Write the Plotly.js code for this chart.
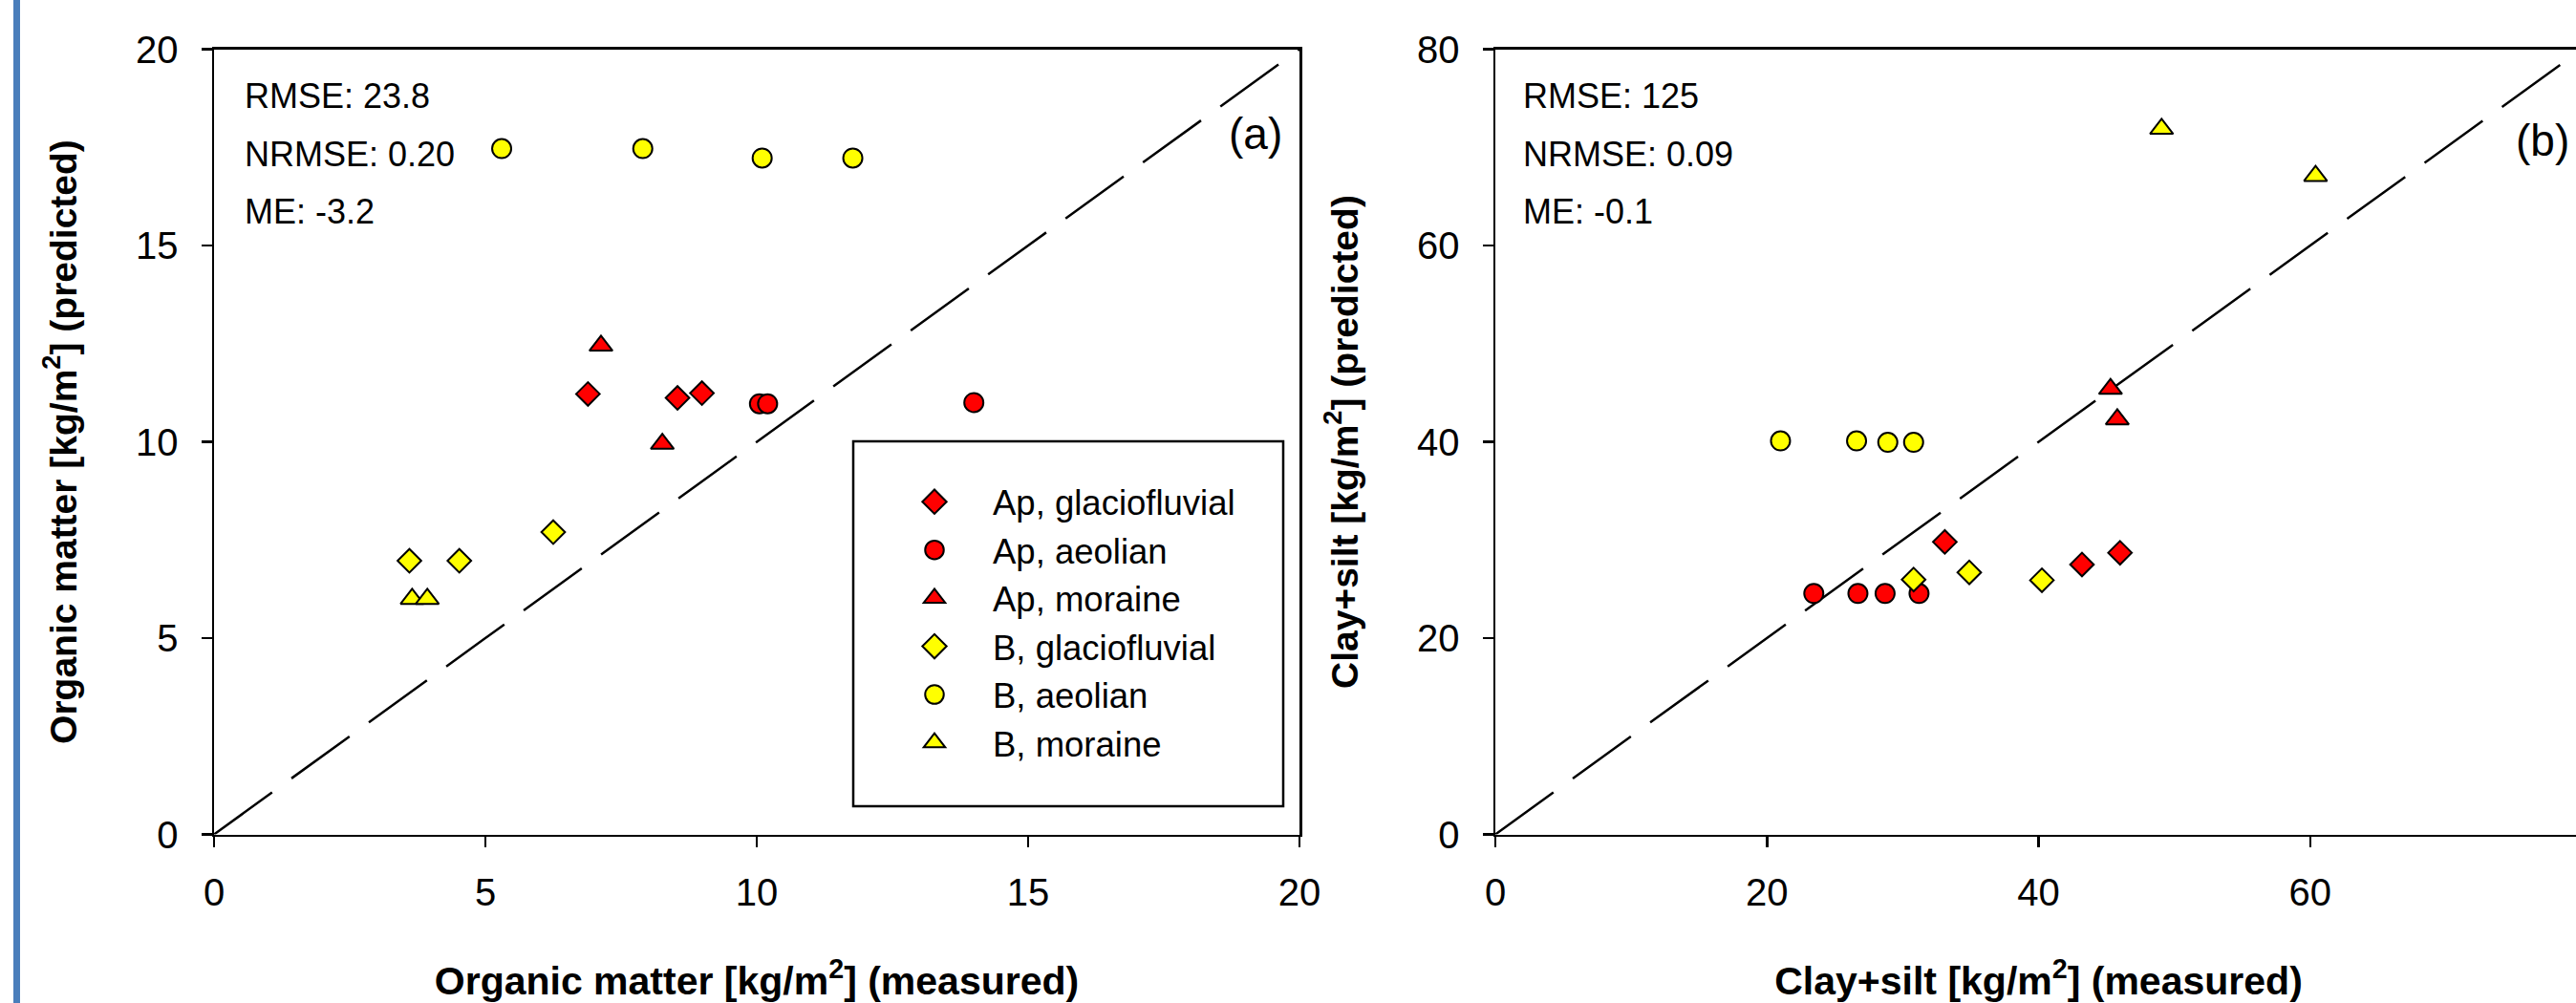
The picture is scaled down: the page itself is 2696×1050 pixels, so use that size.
<!DOCTYPE html>
<html>
<head>
<meta charset="utf-8">
<script src="https://cdn.plot.ly/plotly-3.0.1.min.js"></script>
<style>
  html, body { margin: 0; padding: 0; overflow: hidden; background: #ffffff; }
  #chart { width: 2720px; height: 1050px; }
</style>
</head>
<body>
<div id="chart"></div>
<script>
// ---------------- data ----------------
const seriesNames = ["Ap, glaciofluvial", "Ap, aeolian", "Ap, moraine",
                     "B, glaciofluvial", "B, aeolian", "B, moraine"];

// Panel (a): organic matter [kg/m2], measured (x) vs predicted (y)
const omApGlacioX = [6.89, 8.54, 8.99];
const omApGlacioY = [11.22, 11.12, 11.24];
const omApAeolX   = [10.05, 10.2, 14.0];
const omApAeolY   = [10.97, 10.97, 11.0];
const omApMorX    = [7.13, 8.26];
const omApMorY    = [12.45, 9.95];
const omBGlacioX  = [3.6, 4.52, 6.25];
const omBGlacioY  = [6.97, 6.97, 7.7];
const omBAeolX    = [5.3, 7.9, 10.1, 11.77];
const omBAeolY    = [17.47, 17.47, 17.23, 17.23];
const omBMorX     = [3.65, 3.93];
const omBMorY     = [6.0, 6.0];

// Panel (b): clay+silt [kg/m2], measured (x) vs predicted (y)
const csApGlacioX = [33.1, 43.2, 46.0];
const csApGlacioY = [29.8, 27.5, 28.7];
const csApAeolX   = [23.45, 26.7, 28.7, 31.2];
const csApAeolY   = [24.55, 24.55, 24.55, 24.55];
const csApMorX    = [45.3, 45.8];
const csApMorY    = [45.4, 42.3];
const csBGlacioX  = [30.8, 34.9, 40.25];
const csBGlacioY  = [25.97, 26.7, 25.9];
const csBAeolX    = [21.0, 26.6, 28.9, 30.8];
const csBAeolY    = [40.1, 40.1, 39.95, 39.95];
const csBMorX     = [49.06, 60.4];
const csBMorY     = [71.9, 67.1];

// 1:1 reference lines
const oneToOneA = [0, 20];
const oneToOneB = [0, 80];

// tick values
const ticksAX = [0, 5, 10, 15, 20];
const ticksAY = [0, 5, 10, 15, 20];
const ticksBX = [0, 20, 40, 60, 80];
const ticksBY = [0, 20, 40, 60, 80];

// statistics text
const statsA = ["RMSE: 23.8", "NRMSE: 0.20", "ME: -3.2"];
const statsB = ["RMSE: 125", "NRMSE: 0.09", "ME: -0.1"];
const panelLabels = ["(a)", "(b)"];

// ---------------- styles ----------------
const W = 2720, H = 1050;
const FONT = "'Liberation Sans', Arial, Helvetica, sans-serif";
const RED = "#ff0000", YELLOW = "#ffff00";
const symbols = ["diamond", "circle", "triangle-up", "diamond", "circle", "triangle-up"];
const colors = [RED, RED, RED, YELLOW, YELLOW, YELLOW];
const sizes = [19, 20, 21, 19, 20, 21];

const dataA = [[omApGlacioX, omApGlacioY], [omApAeolX, omApAeolY], [omApMorX, omApMorY],
               [omBGlacioX, omBGlacioY], [omBAeolX, omBAeolY], [omBMorX, omBMorY]];
const dataB = [[csApGlacioX, csApGlacioY], [csApAeolX, csApAeolY], [csApMorX, csApMorY],
               [csBGlacioX, csBGlacioY], [csBAeolX, csBAeolY], [csBMorX, csBMorY]];

const traces = [];
traces.push({x: oneToOneA, y: oneToOneA, xaxis: 'x', yaxis: 'y', mode: 'lines',
  line: {color: '#000', width: 2.5, dash: '75px,25px'}, showlegend: false, hoverinfo: 'skip'});
traces.push({x: oneToOneB, y: oneToOneB, xaxis: 'x2', yaxis: 'y2', mode: 'lines',
  line: {color: '#000', width: 2.5, dash: '75px,25px'}, showlegend: false, hoverinfo: 'skip'});

function mk(i) {
  return {symbol: symbols[i], size: sizes[i], color: colors[i], line: {color: '#000', width: 2}};
}
dataA.forEach(function (d, i) {
  traces.push({x: d[0], y: d[1], xaxis: 'x', yaxis: 'y', mode: 'markers', type: 'scatter',
    name: seriesNames[i], marker: mk(i), showlegend: true});
});
dataB.forEach(function (d, i) {
  traces.push({x: d[0], y: d[1], xaxis: 'x2', yaxis: 'y2', mode: 'markers', type: 'scatter',
    name: seriesNames[i], marker: mk(i), showlegend: false});
});

function axisCommon(range, tickvals) {
  return {
    range: range, tickvals: tickvals, ticks: 'outside', ticklen: 11, tickwidth: 2.5,
    tickcolor: '#000', showline: true, linewidth: 2.5, linecolor: '#000', mirror: true,
    showgrid: false, zeroline: false, automargin: false, fixedrange: true,
    tickfont: {family: FONT, size: 40, color: '#000'}
  };
}
const yDom = [1 - 873.5 / H, 1 - 51.6 / H];
const xTitleFont = {family: FONT, size: 41, color: '#000'};
const yTitleFont = {family: FONT, size: 39, color: '#000'};

const xaxis = Object.assign(axisCommon([0, 20], ticksAX), {
  domain: [224 / W, 1360 / W], anchor: 'y', ticklabelstandoff: 13,
  title: {text: '<b>Organic matter [kg/m<sup>2</sup>] (measured)</b>', font: xTitleFont, standoff: 69}
});
const yaxis = Object.assign(axisCommon([0, 20], ticksAY), {
  domain: yDom, anchor: 'x', ticklabelstandoff: 16,
  title: {text: '<b>Organic matter [kg/m<sup>2</sup>] (predicted)</b>', font: yTitleFont, standoff: 50}
});
const xaxis2 = Object.assign(axisCommon([0, 80], ticksBX), {
  domain: [1565 / W, 2702 / W], anchor: 'y2', ticklabelstandoff: 13,
  title: {text: '<b>Clay+silt [kg/m<sup>2</sup>] (measured)</b>', font: xTitleFont, standoff: 69}
});
const yaxis2 = Object.assign(axisCommon([0, 80], ticksBY), {
  domain: yDom, anchor: 'x2', ticklabelstandoff: 16,
  title: {text: '<b>Clay+silt [kg/m<sup>2</sup>] (predicted)</b>', font: yTitleFont, standoff: 50}
});

const annFont = {family: FONT, size: 36, color: '#000'};
const statY = [0.9402, 0.8660, 0.7927];
const annotations = [];
statsA.forEach(function (t, i) {
  annotations.push({xref: 'x domain', yref: 'y domain', x: 0.0264, y: statY[i], text: t,
    showarrow: false, xanchor: 'left', yanchor: 'middle', font: annFont});
});
statsB.forEach(function (t, i) {
  annotations.push({xref: 'x2 domain', yref: 'y2 domain', x: 0.0237, y: statY[i], text: t,
    showarrow: false, xanchor: 'left', yanchor: 'middle', font: annFont});
});
annotations.push({xref: 'x domain', yref: 'y domain', x: 0.9595, y: 0.893, text: panelLabels[0],
  showarrow: false, xanchor: 'center', yanchor: 'middle', font: {family: FONT, size: 46, color: '#000'}});
annotations.push({xref: 'x2 domain', yref: 'y2 domain', x: 0.964, y: 0.884, text: panelLabels[1],
  showarrow: false, xanchor: 'center', yanchor: 'middle', font: {family: FONT, size: 46, color: '#000'}});

const shapes = [
  // slide border bar on the left
  {type: 'rect', xref: 'paper', yref: 'paper', x0: 14 / W, x1: 21 / W, y0: 0, y1: 1,
   fillcolor: '#4a7ebb', line: {width: 0}, layer: 'below'},
  // legend frame
  {type: 'rect', xref: 'paper', yref: 'paper', x0: 893 / W, x1: 1343 / W,
   y0: 1 - 844 / H, y1: 1 - 462 / H, line: {color: '#000', width: 2.5}, fillcolor: 'rgba(0,0,0,0)'}
];

const layout = {
  width: W, height: H,
  margin: {l: 0, r: 0, t: 0, b: 0, autoexpand: false},
  paper_bgcolor: '#ffffff', plot_bgcolor: '#ffffff',
  font: {family: FONT, color: '#000'},
  xaxis: xaxis, yaxis: yaxis, xaxis2: xaxis2, yaxis2: yaxis2,
  showlegend: true,
  legend: {
    x: 917 / W, y: 1 - 495 / H, xanchor: 'left', yanchor: 'top',
    bgcolor: 'rgba(0,0,0,0)', borderwidth: 0, itemwidth: 112, itemsizing: 'trace',
    font: {family: FONT, size: 36.5, color: '#000'}
  },
  annotations: annotations,
  shapes: shapes
};

Plotly.newPlot('chart', traces, layout, {displayModeBar: false, staticPlot: true}).then(function () {
  // legend symbols are capped in size by the library; enlarge them to match the plot markers
  document.querySelectorAll('.legend path.scatterpts').forEach(function (p) {
    const t = p.getAttribute('transform') || '';
    p.setAttribute('transform', t + ' scale(1.22)');
    p.style.strokeWidth = '1.65px';
  });
});
</script>
</body>
</html>
